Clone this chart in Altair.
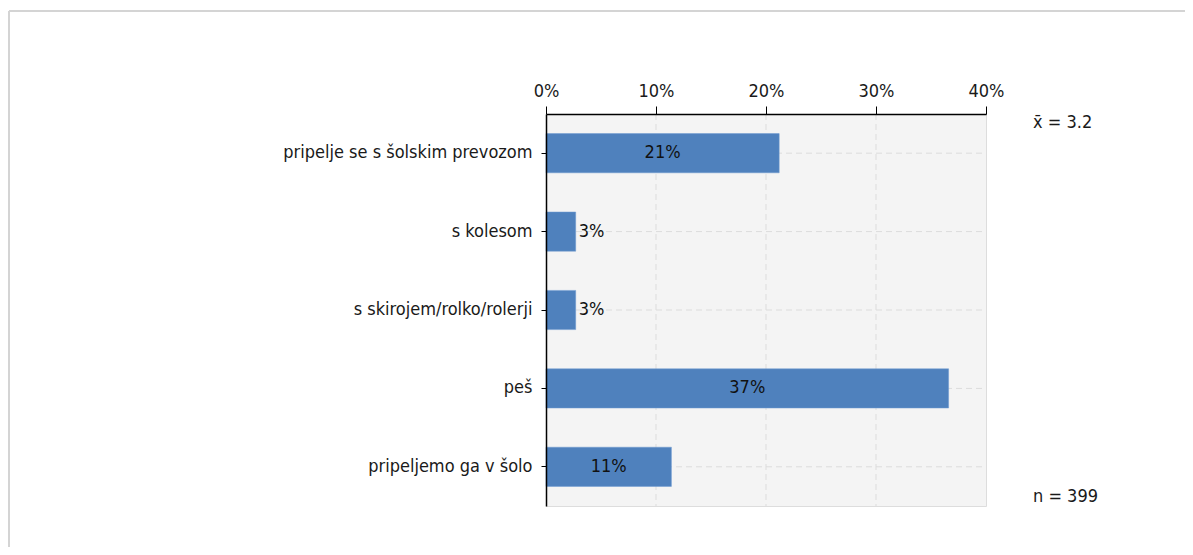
import altair as alt
import pandas as pd

categories = [
    "pripelje se s šolskim prevozom",
    "s kolesom",
    "s skirojem/rolko/rolerji",
    "peš",
    "pripeljemo ga v šolo",
]
values = [21.2, 2.7, 2.7, 36.6, 11.4]
labels = ["21%", "3%", "3%", "37%", "11%"]
x_ticks = [0, 10, 20, 30, 40]
mean_text = "x\u0304 = 3.2"
n_text = "n = 399"

df = pd.DataFrame({"cat": categories, "val": values, "lab": labels})
grid_df = pd.DataFrame({"g": x_ticks[1:-1]})

FONT = "Liberation Sans Narrow, DejaVu Sans Condensed"
FS = 18
W, H = 440, 392
GRID = "#dcdcdc"

y_scale = alt.Scale(domain=categories, paddingInner=0.5, paddingOuter=0.25)
x_scale = alt.Scale(domain=[0, 40], nice=False)

y_enc = alt.Y(
    "cat:N",
    sort=categories,
    title=None,
    scale=y_scale,
    axis=alt.Axis(
        domainColor="#000000", domainWidth=1.5, tickColor="#000000", tickSize=5,
        labelPadding=9, labelFontSize=FS, labelColor="#1a1a1a", labelFont=FONT,
        labelLimit=500, grid=False, zindex=1,
    ),
)

base = alt.Chart(df)

bg = alt.Chart(pd.DataFrame({"a": [0]})).mark_rect(color="#f4f4f4").encode(
    x=alt.value(0), x2=alt.value(W), y=alt.value(0), y2=alt.value(H)
)

vgrid = alt.Chart(grid_df).mark_rule(color=GRID, strokeDash=[6, 4], strokeWidth=1).encode(
    x=alt.X("g:Q", scale=x_scale)
)

hgrid = base.mark_rule(color=GRID, strokeDash=[6, 4], strokeWidth=1).encode(
    y=alt.Y("cat:N", sort=categories, scale=y_scale, bandPosition=0.5),
    x=alt.value(0), x2=alt.value(W),
)

bars = base.mark_bar(color="#4f81bd", stroke="#6f9bd1", strokeWidth=0.5).encode(
    x=alt.X(
        "val:Q", scale=x_scale, title=None,
        axis=alt.Axis(
            orient="top", values=x_ticks, labelExpr="datum.value + '%'",
            labelFlush=False,
            domainColor="#000000", domainWidth=1.5, tickColor="#000000", tickSize=8,
            labelPadding=6, labelFontSize=FS, labelColor="#1a1a1a", labelFont=FONT,
            grid=False, zindex=1,
        ),
    ),
    y=y_enc,
)

inside = base.transform_filter("datum.val >= 5").transform_calculate(
    mid="datum.val / 2"
).mark_text(fontSize=FS, font=FONT, color="#111111", align="center", baseline="middle").encode(
    x=alt.X("mid:Q", scale=x_scale),
    y=alt.Y("cat:N", sort=categories, scale=y_scale),
    text="lab:N",
)

outside = base.transform_filter("datum.val < 5").mark_text(
    fontSize=FS, font=FONT, color="#111111", align="left", baseline="middle", dx=3
).encode(
    x=alt.X("val:Q", scale=x_scale),
    y=alt.Y("cat:N", sort=categories, scale=y_scale),
    text="lab:N",
)

mean_mark = alt.Chart(pd.DataFrame({"t": [mean_text]})).mark_text(
    fontSize=FS, font=FONT, color="#1a1a1a", align="left", baseline="middle"
).encode(x=alt.value(487), y=alt.value(9), text="t:N")

n_mark = alt.Chart(pd.DataFrame({"t": [n_text]})).mark_text(
    fontSize=FS, font=FONT, color="#1a1a1a", align="left", baseline="middle"
).encode(x=alt.value(487), y=alt.value(383), text="t:N")

frame_top = alt.Chart(pd.DataFrame({"a": [0]})).mark_rule(color="#d4d4d4", strokeWidth=2).encode(
    x=alt.value(-537), x2=alt.value(660), y=alt.value(-103)
)
frame_left = alt.Chart(pd.DataFrame({"a": [0]})).mark_rule(color="#d4d4d4", strokeWidth=2).encode(
    x=alt.value(-537), y=alt.value(-103), y2=alt.value(460)
)

chart = alt.layer(
    bg, vgrid, hgrid, bars, inside, outside, mean_mark, n_mark, frame_top, frame_left
).properties(
    width=W, height=H,
    padding={"left": 538, "top": 106, "right": 199, "bottom": 41},
    autosize=alt.AutoSizeParams(type="none"),
).configure_view(
    stroke="#d8d8d8", strokeWidth=1
).configure(background="#ffffff")

chart.save("out.html", embed_options={"renderer": "svg", "actions": False})
